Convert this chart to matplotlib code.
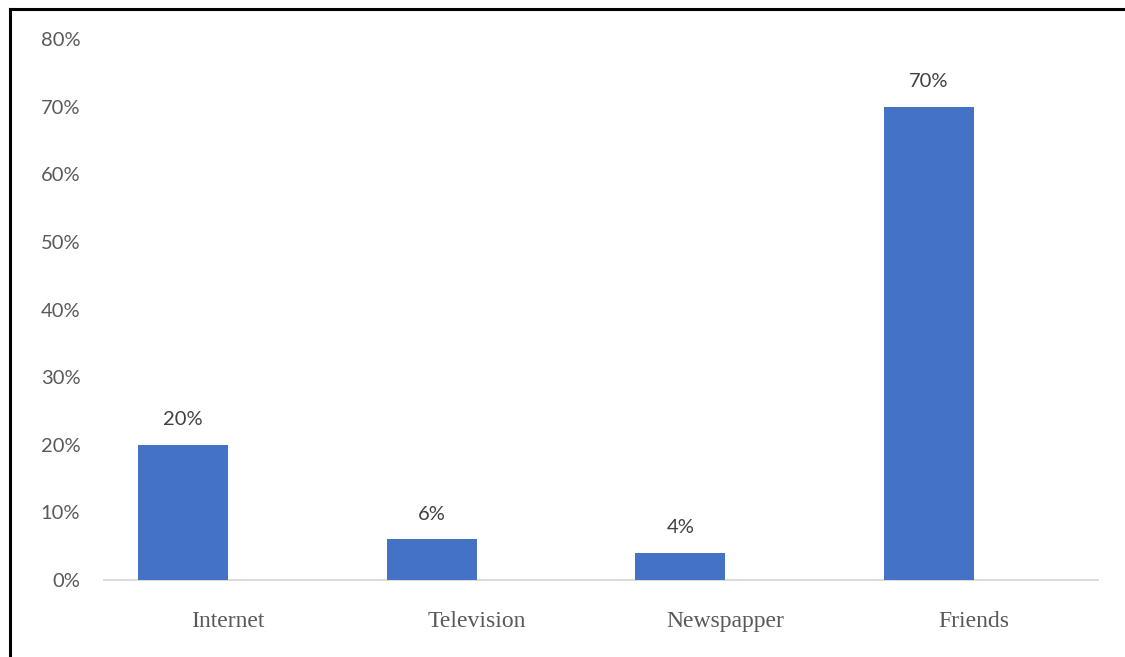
import matplotlib
matplotlib.use("Agg")
import matplotlib.pyplot as plt
from matplotlib.lines import Line2D
from matplotlib.ticker import FuncFormatter

categories = ["Internet", "Television", "Newspapper", "Friends"]
shares = [0.20, 0.06, 0.04, 0.70]
y_ticks = [0.0, 0.1, 0.2, 0.3, 0.4, 0.5, 0.6, 0.7, 0.8]

fig = plt.figure(figsize=(11.25, 6.57), dpi=100)
ax = fig.add_axes([0.0924, 0.1172, 0.976 - 0.0924, 0.8234])

bar_w = 0.362
xs = list(range(len(categories)))
bar_x = [x - bar_w / 2 for x in xs]
ax.bar(bar_x, shares, width=bar_w, color="#4472C4", zorder=3)

for x, v in zip(bar_x, shares):
    ax.annotate(f"{v * 100:.0f}%", (x, v), xytext=(0, 12), textcoords="offset points",
                ha="center", va="bottom", fontsize=14.5, family="Lato", color="#404040")

ax.set_xlim(-0.5, len(categories) - 0.5)
ax.set_ylim(0, 0.8)
ax.set_yticks(y_ticks)
ax.yaxis.set_major_formatter(FuncFormatter(lambda v, _: f"{v * 100:.0f}%"))
ax.set_xticks(xs)
ax.set_xticklabels(categories, family="Liberation Serif", fontsize=17, color="#595959")
for lab in ax.get_yticklabels():
    lab.set_family("Lato")
    lab.set_fontsize(14.5)
    lab.set_color("#595959")
ax.tick_params(axis="y", length=0, pad=17)
ax.tick_params(axis="x", length=0, pad=22)

for s in ["top", "right", "left"]:
    ax.spines[s].set_visible(False)
ax.spines["bottom"].set_color("#d9d9d9")
ax.spines["bottom"].set_linewidth(1.3)

# outer frame on the left and top edges
W, H = 1125, 657
fig.add_artist(Line2D([10 / W, 10 / W], [0, 1 - 9 / H], color="black", lw=2.2,
                      transform=fig.transFigure))
fig.add_artist(Line2D([10 / W, 1], [1 - 9 / H, 1 - 9 / H], color="black", lw=2.2,
                      transform=fig.transFigure))

fig.savefig("out.png", dpi=100)
